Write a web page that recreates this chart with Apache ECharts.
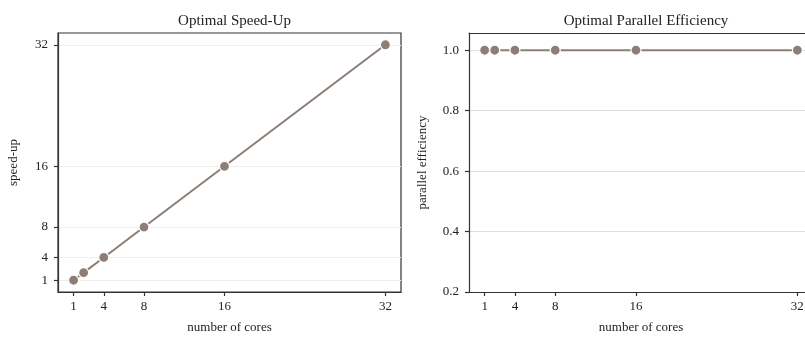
<!DOCTYPE html>
<html>
<head>
<meta charset="utf-8">
<script src="https://cdn.jsdelivr.net/npm/echarts@6/dist/echarts.min.js"></script>
<style>
  html, body { margin: 0; padding: 0; background: #fff; }
  #chart { width: 805px; height: 337px; }
</style>
</head>
<body>
<div id="chart"></div>
<script>
// data
const cores = [1, 2, 4, 8, 16, 32];
const speedUp = [1, 2, 4, 8, 16, 32];
const efficiency = [1.0, 1.0, 1.0, 1.0, 1.0, 1.0];
const coreTicks = [1, 4, 8, 16, 32];
const speedTicks = [1, 4, 8, 16, 32];

const FONT = '"Liberation Serif", "DejaVu Serif", serif';
const LINE = '#8c7d77';
const AXIS = '#333333';

const chart = echarts.init(document.getElementById('chart'));

function xAxisCfg(gridIndex) {
  return {
    type: 'value', gridIndex: gridIndex,
    min: -0.55, max: 33.55,
    name: 'number of cores', nameLocation: 'middle', nameGap: 29,
    nameTextStyle: { fontFamily: FONT, fontSize: 13, color: '#222' },
    axisLine: { show: true, onZero: false, lineStyle: { color: AXIS, width: 1.2 } },
    axisTick: { show: true, length: 4, customValues: coreTicks, lineStyle: { color: AXIS, width: 1.2 } },
    axisLabel: { customValues: coreTicks, margin: 8, fontFamily: FONT, fontSize: 13, color: '#222' },
    splitLine: { show: false }
  };
}

const option = {
  animation: false,
  title: [
    { text: 'Optimal Speed-Up', left: 229.5, top: 9, textAlign: 'center',
      textStyle: { fontFamily: FONT, fontSize: 15, fontWeight: 'normal', color: '#222' } },
    { text: 'Optimal Parallel Efficiency', left: 641, top: 9, textAlign: 'center',
      textStyle: { fontFamily: FONT, fontSize: 15, fontWeight: 'normal', color: '#222' } }
  ],
  grid: [
    { left: 58, top: 33, width: 343, height: 259, show: true, borderColor: AXIS, borderWidth: 1.2,
      outerBoundsMode: 'none' },
    { left: 469, top: 33, width: 344, height: 259, outerBoundsMode: 'none' }
  ],
  xAxis: [
    xAxisCfg(0),
    xAxisCfg(1),
    // top spine of the right panel
    { type: 'value', gridIndex: 1, position: 'top', min: -0.55, max: 33.55,
      axisLine: { show: true, onZero: false, lineStyle: { color: AXIS, width: 1.2 } },
      axisTick: { show: false }, axisLabel: { show: false }, splitLine: { show: false } }
  ],
  yAxis: [
    {
      type: 'value', gridIndex: 0,
      min: -0.55, max: 33.55,
      name: 'speed-up', nameLocation: 'middle', nameGap: 38,
      nameTextStyle: { fontFamily: FONT, fontSize: 13, color: '#222' },
      axisLine: { show: true, onZero: false, lineStyle: { color: AXIS, width: 1.2 } },
      axisTick: { show: true, length: 4, customValues: speedTicks, lineStyle: { color: AXIS, width: 1.2 } },
      axisLabel: { customValues: speedTicks, margin: 10, fontFamily: FONT, fontSize: 13, color: '#222' },
      splitLine: { show: true, lineStyle: { color: '#eeeeee', width: 1 } }
    },
    {
      type: 'value', gridIndex: 1,
      min: 0.2, max: 1.057, interval: 0.2,
      name: 'parallel efficiency', nameLocation: 'middle', nameGap: 40,
      nameTextStyle: { fontFamily: FONT, fontSize: 13, color: '#222' },
      axisLine: { show: true, onZero: false, lineStyle: { color: AXIS, width: 1.2 } },
      axisTick: { show: true, length: 4, lineStyle: { color: AXIS, width: 1.2 } },
      axisLabel: { margin: 10, fontFamily: FONT, fontSize: 13, color: '#222',
        formatter: v => v.toFixed(1), showMaxLabel: false },
      splitLine: { show: true, lineStyle: { color: '#dddddd', width: 1 } }
    }
  ],
  series: [
    {
      type: 'line', xAxisIndex: 0, yAxisIndex: 0,
      data: cores.map((c, i) => [c, speedUp[i]]),
      symbol: 'circle', symbolSize: 10,
      itemStyle: { color: LINE, borderColor: '#fff', borderWidth: 1.2 },
      lineStyle: { color: LINE, width: 2 }
    },
    {
      type: 'line', xAxisIndex: 1, yAxisIndex: 1,
      data: cores.map((c, i) => [c, efficiency[i]]),
      symbol: 'circle', symbolSize: 10,
      itemStyle: { color: LINE, borderColor: '#fff', borderWidth: 1.2 },
      lineStyle: { color: LINE, width: 2 }
    }
  ]
};

chart.setOption(option);
</script>
</body>
</html>
